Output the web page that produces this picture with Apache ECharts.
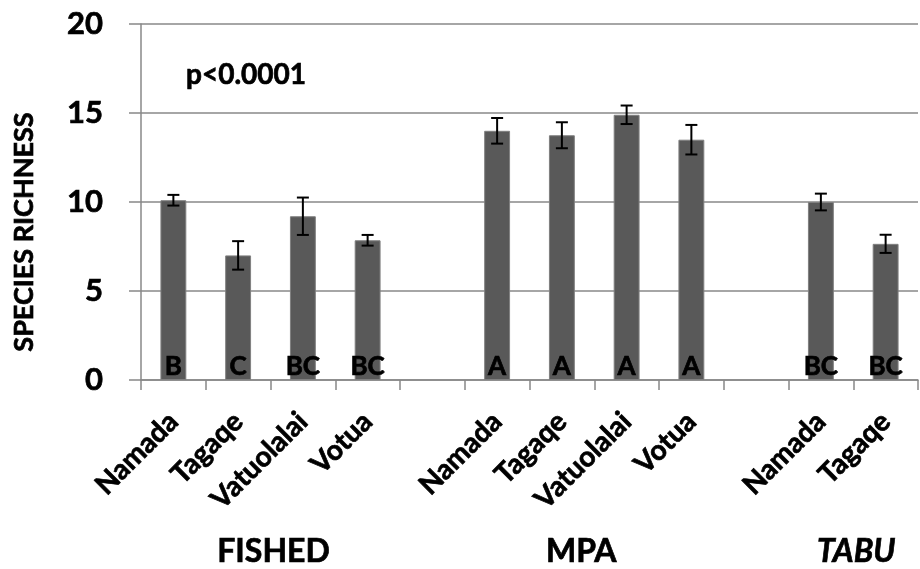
<!DOCTYPE html>
<html>
<head>
<meta charset="utf-8">
<script src="https://cdn.jsdelivr.net/npm/echarts@6/dist/echarts.min.js"></script>
<style>
  html, body { margin: 0; padding: 0; background: #fff; }
  #chart { width: 920px; height: 569px; }
</style>
</head>
<body>
<div id="chart"></div>
<script>
// Sites along the x axis; empty slots separate the three management groups
const sites = ['Namada', 'Tagaqe', 'Vatuolalai', 'Votua', '',
               'Namada', 'Tagaqe', 'Vatuolalai', 'Votua', '',
               'Namada', 'Tagaqe'];
// Mean species richness per site (null = spacer slot)
const richness = [10.1, 7.0, 9.2, 7.85, null,
                  14.0, 13.75, 14.9, 13.5, null,
                  10.0, 7.65];
// Standard error for each mean
const stdErr = [0.3, 0.8, 1.05, 0.3, null,
                0.72, 0.73, 0.52, 0.83, null,
                0.47, 0.51];
// Post-hoc grouping letters printed at the foot of each bar
const letters = ['B', 'C', 'BC', 'BC', '',
                 'A', 'A', 'A', 'A', '',
                 'BC', 'BC'];
// Management groups and the slot ranges they span
const groups = ['FISHED', 'MPA', 'TABU'];
const groupSpans = [[0, 3], [5, 8], [10, 11]];
const yTicks = [0, 5, 10, 15, 20];

const FONT = 'Lato';
const HEAVY = { fontFamily: FONT, fontWeight: 'bold', color: '#000', textBorderColor: '#000', textBorderWidth: 0.7 };
const GRID = { left: 141, right: 2, top: 24, bottom: 189 };

const chart = echarts.init(document.getElementById('chart'), null, { renderer: 'canvas' });

const errData = richness.map((v, i) => v == null ? null : [i, v, stdErr[i]]).filter(d => d);

chart.setOption({
  animation: false,
  grid: GRID,
  xAxis: {
    type: 'category',
    data: sites,
    axisLine: { lineStyle: { color: '#888', width: 1.5 } },
    axisTick: { show: true, interval: 0, length: 10, lineStyle: { color: '#888', width: 1.5 } },
    axisLabel: Object.assign({ interval: 0, rotate: 45, margin: 37, fontSize: 28 }, HEAVY)
  },
  yAxis: {
    type: 'value',
    min: 0, max: 20, interval: 5,
    axisLine: { show: true, lineStyle: { color: '#888', width: 1.5 } },
    axisTick: { show: true, length: 12, lineStyle: { color: '#888', width: 1.5 } },
    splitLine: { lineStyle: { color: '#888', width: 1.5 } },
    axisLabel: Object.assign({ margin: 38, fontSize: 31, customValues: yTicks }, HEAVY)
  },
  series: [
    {
      type: 'bar',
      data: richness.map(v => v == null ? '-' : v),
      barWidth: '40%',
      itemStyle: { color: '#595959', borderColor: '#808080', borderWidth: 1 },
      label: Object.assign({
        show: true,
        position: 'insideBottom',
        distance: 0,
        formatter: p => letters[p.dataIndex],
        fontSize: 26
      }, HEAVY)
    },
    {
      type: 'custom',
      data: errData,
      z: 5,
      renderItem: function (params, api) {
        const x = api.value(0), m = api.value(1), e = api.value(2);
        const top = api.coord([x, m + e]);
        const bot = api.coord([x, m - e]);
        const cap = 6;
        const style = { stroke: '#000', lineWidth: 2 };
        return {
          type: 'group',
          children: [
            { type: 'line', shape: { x1: top[0], y1: top[1], x2: bot[0], y2: bot[1] }, style },
            { type: 'line', shape: { x1: top[0] - cap, y1: top[1], x2: top[0] + cap, y2: top[1] }, style },
            { type: 'line', shape: { x1: bot[0] - cap, y1: bot[1], x2: bot[0] + cap, y2: bot[1] }, style }
          ]
        };
      }
    }
  ]
});

function textStyle(extra) {
  return Object.assign({
    fontFamily: FONT, fontWeight: 'bold', fill: '#000',
    stroke: '#000', lineWidth: 0.7,
    align: 'center', verticalAlign: 'middle'
  }, extra);
}

// Axis title, significance note and group captions placed from the axis scale
function placeText() {
  const elems = [];
  elems.push({
    type: 'text',
    x: 24, y: 232,
    rotation: Math.PI / 2,
    style: textStyle({ text: 'SPECIES RICHNESS', fontSize: 27 })
  });
  elems.push({
    type: 'text',
    x: 246, y: 75,
    style: textStyle({ text: 'p<0.0001', fontSize: 28 })
  });
  groups.forEach((g, i) => {
    const [a, b] = groupSpans[i];
    const xa = chart.convertToPixel({ xAxisIndex: 0 }, a);
    const xb = chart.convertToPixel({ xAxisIndex: 0 }, b);
    elems.push({
      type: 'text',
      x: (xa + xb) / 2 + (g === 'MPA' ? -13 : 3), y: 552,
      style: textStyle({
        text: g, fontSize: 32,
        fontStyle: g === 'TABU' ? 'italic' : 'normal'
      })
    });
  });
  chart.setOption({ graphic: elems });
}
placeText();
</script>
</body>
</html>
